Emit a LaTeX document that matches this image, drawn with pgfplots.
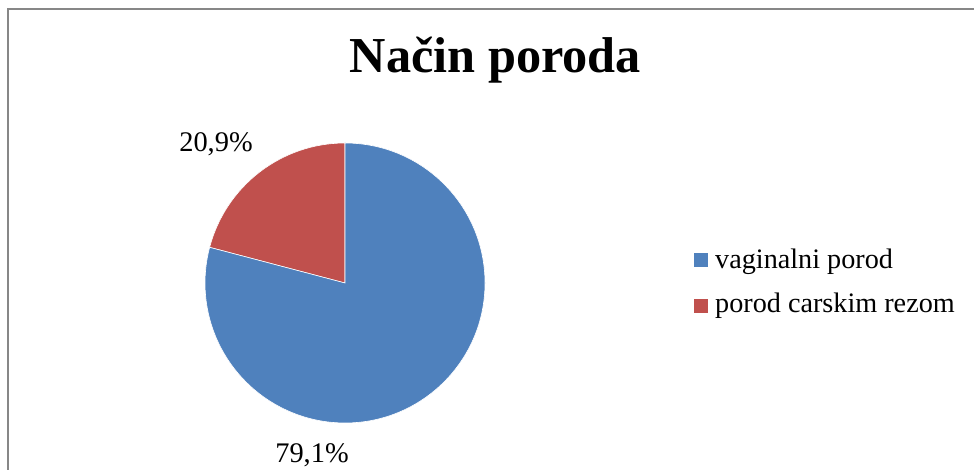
\documentclass[border=0pt]{standalone}
\usepackage{fontspec}
\setmainfont{Liberation Serif}
\usepackage{pgfplots}
\pgfplotsset{compat=1.18}
\definecolor{pieblue}{HTML}{4F81BD}
\definecolor{piered}{HTML}{C0504D}
\definecolor{framegray}{HTML}{878787}
% data (percent)
\def\valVaginal{79.1}
\def\valCarski{20.9}
\pgfmathsetmacro{\aRed}{90+3.6*\valCarski}
\pgfmathsetmacro{\aBlue}{\aRed-360}
\begin{document}
\begin{tikzpicture}[x=1bp,y=1bp]
\useasboundingbox (0,0) rectangle (974,470);
\draw[framegray, line width=2bp] (8,-20) -- (8,461) -- (990,461);
\node[font=\fontsize{50.5}{54}\selectfont\bfseries] at (495.5,410) {Način poroda};
\begin{axis}[at={(345bp,187bp)}, anchor=center, width=280bp, height=280bp,
  xmin=-140, xmax=140, ymin=-140, ymax=140, hide axis, clip=false,
  scale only axis]
\addplot[piered, fill=piered, draw=white, line width=0.6bp] coordinates {(0,0) (0,140)} arc[start angle=90, end angle=\aRed, radius=140] -- cycle;
\addplot[pieblue, fill=pieblue, draw=white, line width=0.6bp] coordinates {(0,0) (0,140)} arc[start angle=90, end angle=\aBlue, radius=140] -- cycle;
\end{axis}
\node[font=\fontsize{28.5}{32}\selectfont] at (216,326) {20,9\%};
\node[font=\fontsize{28.5}{32}\selectfont] at (312,15) {79,1\%};
\fill[pieblue] (694,203) rectangle (708,217);
\fill[piered] (694,157) rectangle (708,171);
\node[anchor=west, inner sep=0pt, font=\fontsize{28.3}{32}\selectfont] at (715,208) {vaginalni porod};
\node[anchor=west, inner sep=0pt, font=\fontsize{28.3}{32}\selectfont] at (715,164) {porod carskim rezom};
\end{tikzpicture}
\end{document}
